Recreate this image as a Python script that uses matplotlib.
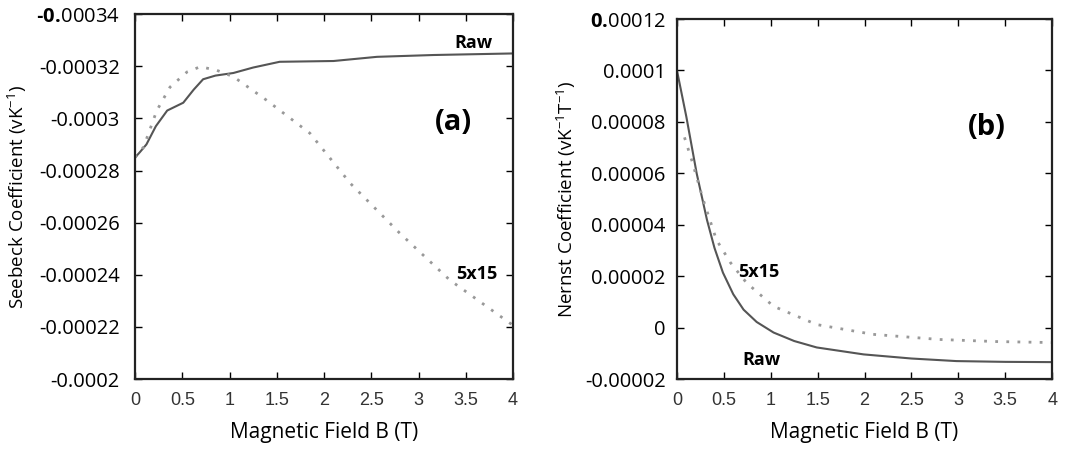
import matplotlib
matplotlib.use("Agg")
import matplotlib.pyplot as plt

plt.rcParams['font.family'] = ['Open Sans', 'DejaVu Sans']
plt.rcParams['mathtext.fontset'] = 'custom'
plt.rcParams['mathtext.rm'] = 'Open Sans'
plt.rcParams['mathtext.bf'] = 'Open Sans:bold'
plt.rcParams['mathtext.it'] = 'Open Sans:italic'

# panel (a) - Seebeck coefficient
b_raw_a = [0, 0.05, 0.12, 0.22, 0.34, 0.51, 0.62, 0.72, 0.85, 1.04, 1.25, 1.53, 2.1, 2.56, 3.16, 4.0]
s_raw = [-0.000285, -0.000287, -0.00029, -0.000297, -0.000303, -0.000306, -0.000311, -0.000315,
         -0.0003164, -0.0003174, -0.0003195, -0.0003217, -0.000322, -0.0003236, -0.0003243, -0.0003249]
b_fit_a = [0, 0.09, 0.23, 0.37, 0.55, 0.69, 0.86, 1.04, 1.39, 1.85, 2.28, 2.8, 3.33, 4.0]
s_fit = [-0.000285, -0.000289, -0.000303, -0.000312, -0.0003178, -0.0003198, -0.0003185,
         -0.000316, -0.000307, -0.0002943, -0.000275, -0.000256, -0.000238, -0.0002206]

# panel (b) - Nernst coefficient
b_raw_b = [0, 0.1, 0.21, 0.32, 0.4, 0.49, 0.6, 0.71, 0.85, 1.03, 1.25, 1.49, 1.99, 2.5, 2.98, 3.5, 4.0]
n_raw = [0.0001, 0.000082, 0.00006, 0.0000419, 0.000031, 0.0000214, 0.000013, 0.000007, 0.0000022,
         -0.0000019, -0.0000052, -0.0000077, -0.0000104, -0.000012, -0.000013, -0.0000133, -0.0000134]
b_fit_b = [0.08, 0.157, 0.28, 0.42, 0.57, 0.74, 1.03, 1.49, 2.09, 2.8, 3.4, 4.0]
n_fit = [0.000074, 0.0000652, 0.0000497, 0.0000342, 0.0000253, 0.0000175, 0.0000083,
         0.0000012, -0.0000026, -0.0000046, -0.0000054, -0.0000058]

xticks = [0, 0.5, 1, 1.5, 2, 2.5, 3, 3.5, 4]
xlabels = ['0', '0.5', '1', '1.5', '2', '2.5', '3', '3.5', '4']
yticks_a = [-0.00034, -0.00032, -0.0003, -0.00028, -0.00026, -0.00024, -0.00022, -0.0002]
ylabels_a = ['$\\mathbf{\u2010 0.}\\!\\mathrm{00034}$', '-0.00032', '-0.0003', '-0.00028', '-0.00026',
             '-0.00024', '-0.00022', '-0.0002']
yticks_b = [0.00012, 0.0001, 0.00008, 0.00006, 0.00004, 0.00002, 0, -0.00002]
ylabels_b = ['$\\mathbf{0.}\\!\\mathrm{00012}$', '0.0001', '0.00008', '0.00006', '0.00004',
             '0.00002', '0', '-0.00002']

fig = plt.figure(figsize=(10.72, 4.54), dpi=100)
ax1 = fig.add_axes([0.126, 0.165, 0.3526, 0.804])
ax2 = fig.add_axes([0.6315, 0.165, 0.35, 0.793])


def style(ax, yt, yl, ypad):
    ax.set_xlim(0, 4)
    ax.set_xticks(xticks)
    ax.set_xticklabels(xlabels, family='Liberation Sans', fontsize=13, color='#333333')
    ax.set_yticks(yt)
    ax.set_yticklabels(yl, fontsize=14.5)
    ax.tick_params(direction='in', top=True, right=True, length=5, width=1)
    ax.tick_params(axis='x', pad=9)
    ax.tick_params(axis='y', pad=ypad)
    for s in ax.spines.values():
        s.set_linewidth(1.6)
        s.set_color('#222222')
    ax.set_xlabel('Magnetic Field B (T)', fontsize=15, labelpad=10)


ax1.plot(b_raw_a, s_raw, color='#555555', lw=1.5)
ax1.plot(b_fit_a, s_fit, color='#999999', lw=2, linestyle=(0, (1, 3)))
ax1.set_ylim(-0.0002, -0.00034)
style(ax1, yticks_a, ylabels_a, 11)
ax1.set_ylabel(r'Seebeck Coefficient (vK$^{-1}$)', fontsize=13.5, labelpad=5)
ax1.text(3.58, -0.000329, 'Raw', fontsize=13, fontweight='bold', ha='center', va='center')
ax1.text(3.62, -0.0002403, '5x15', fontsize=13, fontweight='bold', ha='center', va='center')
ax1.text(3.37, -0.0002985, '(a)', fontsize=21, fontweight='bold', ha='center', va='center')

ax2.plot(b_raw_b, n_raw, color='#555555', lw=1.5)
ax2.plot(b_fit_b, n_fit, color='#999999', lw=2, linestyle=(0, (1, 3)))
ax2.set_ylim(-0.00002, 0.00012)
style(ax2, yticks_b, ylabels_b, 8)
ax2.set_ylabel(r'Nernst Coefficient (vK$^{-1}$T$^{-1}$)', fontsize=13.5, labelpad=5)
ax2.text(0.87, 0.0000215, '5x15', fontsize=13, fontweight='bold', ha='center', va='center')
ax2.text(0.9, -0.0000125, 'Raw', fontsize=13, fontweight='bold', ha='center', va='center')
ax2.text(3.3, 0.000078, '(b)', fontsize=21, fontweight='bold', ha='center', va='center')

fig.savefig('out.png', dpi=100)
